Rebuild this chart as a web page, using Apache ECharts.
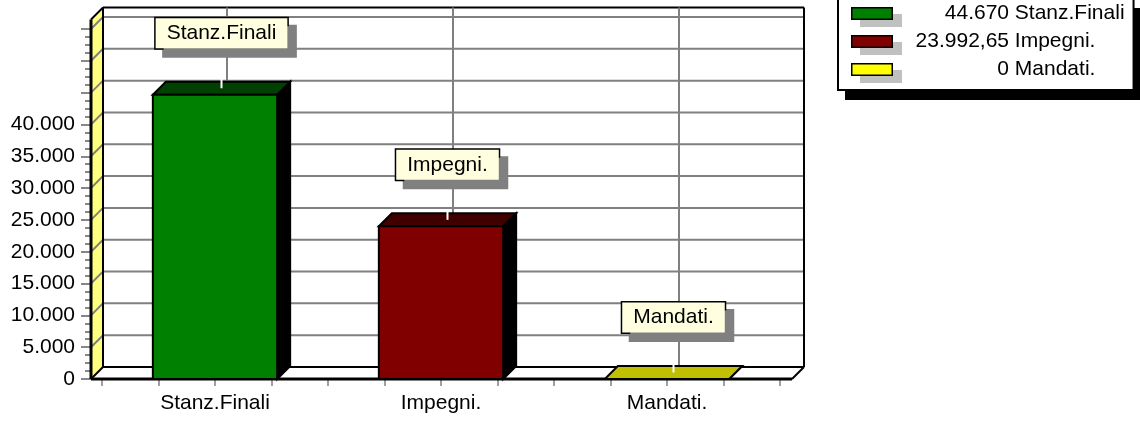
<!DOCTYPE html>
<html>
<head>
<meta charset="utf-8">
<script src="https://cdn.jsdelivr.net/npm/echarts@6/dist/echarts.min.js"></script>
<style>
  html, body { margin: 0; padding: 0; background: #fff; }
  #main { width: 1140px; height: 421px; }
</style>
</head>
<body>
<div id="main"></div>
<script>
// dati del grafico
const categories = ['Stanz.Finali', 'Impegni.', 'Mandati.'];
const values = [44670, 23992.65, 0];
const yTickLabels = ['0', '5.000', '10.000', '15.000', '20.000', '25.000', '30.000', '35.000', '40.000'];

// stile
const frontColors = ['#008000', '#800000', '#ffff00'];
const topColors = ['#004000', '#400000', '#c0c000'];
const FONT = '"Liberation Sans", Arial, sans-serif';
const Y_MAX = 55000;     // ultimo tick
const WALL_TOP = 56500;  // bordo superiore delle pareti
const BAR_W = 0.55;
const WALL_D = 12;       // profondita pareti
const BAR_D = 13;        // profondita barre
const VAL_COL = 102;     // colonna valori nella legenda

function fmtIt(v) {
  const p = v.toFixed(2).split('.');
  const int = p[0].replace(/\B(?=(\d{3})+(?!\d))/g, '.');
  return p[1] === '00' ? int : int + ',' + p[1];
}

function line(a, b, color, w) {
  return {
    type: 'line',
    shape: { x1: a[0], y1: a[1], x2: b[0], y2: b[1] },
    style: { stroke: color, lineWidth: w }
  };
}

// icona legenda con ombra grigia
function swatch(color) {
  const c = document.createElement('canvas');
  c.width = 51; c.height = 27;
  const ctx = c.getContext('2d');
  ctx.fillStyle = '#c0c0c0';
  ctx.fillRect(9, 14, 42, 13);
  ctx.fillStyle = color;
  ctx.fillRect(0, 7, 42, 13);
  ctx.strokeStyle = '#000';
  ctx.lineWidth = 1.5;
  ctx.strokeRect(0.75, 7.75, 40.5, 11.5);
  return 'image://' + c.toDataURL();
}

const measureCtx = document.createElement('canvas').getContext('2d');
measureCtx.font = '21px ' + FONT;
const legendRich = { n: { fontSize: 21, fontFamily: FONT, color: '#000', lineHeight: 21 } };
values.forEach((v, i) => {
  const w = measureCtx.measureText(fmtIt(v)).width;
  legendRich['v' + i] = {
    fontSize: 21, fontFamily: FONT, color: '#000', lineHeight: 21,
    padding: [0, 0, 0, Math.max(0, VAL_COL - w)]
  };
});
function legendText(name) {
  const i = categories.indexOf(name);
  return '{v' + i + '|' + fmtIt(values[i]) + '} {n|' + name + '}';
}

// pareti, pavimento e griglia
function renderFrame(params, api) {
  const fb = api.coord([0, 0]);
  const ft = api.coord([1, WALL_TOP]);
  const x0 = fb[0], y0 = fb[1], x1 = ft[0], yt = ft[1];
  const d = WALL_D;
  const ch = [];
  ch.push({ type: 'rect', shape: { x: x0 + d, y: yt - d, width: x1 - x0, height: y0 - yt }, style: { fill: '#fff' } });
  ch.push({ type: 'polygon', shape: { points: [[x0, y0], [x0, yt], [x0 + d, yt - d], [x0 + d, y0 - d]] }, style: { fill: '#ffff80' } });
  ch.push({ type: 'polygon', shape: { points: [[x0, y0], [x1, y0], [x1 + d, y0 - d], [x0 + d, y0 - d]] }, style: { fill: '#fff' } });
  for (let v = 5000; v <= Y_MAX; v += 5000) {
    const y = api.coord([0, v])[1];
    ch.push({
      type: 'polyline',
      shape: { points: [[x0, y], [x0 + d, y - d], [x1 + d, y - d]] },
      style: { stroke: '#808080', lineWidth: 2, fill: null }
    });
  }
  ch.push(line([x0 + d, yt - d], [x0 + d, y0 - d], '#000', 2));
  ch.push(line([x0 + d, yt - d], [x1 + d, yt - d], '#000', 2));
  ch.push(line([x1 + d, yt - d], [x1 + d, y0 - d], '#000', 2));
  ch.push(line([x0 + d, y0 - d], [x1 + d, y0 - d], '#000', 2));
  ch.push(line([x0, yt], [x0 + d, yt - d], '#000', 2));
  ch.push(line([x0, y0], [x0 + d, y0 - d], '#000', 2));
  ch.push(line([x1, y0], [x1 + d, y0 - d], '#000', 2));
  ch.push(line([x0, yt], [x0, y0], '#000', 3));
  ch.push(line([x0, y0], [x1, y0], '#000', 3));
  return { type: 'group', children: ch };
}

// barre 3D con etichetta
function renderBar(params, api) {
  const i = api.value(0);
  const v = api.value(1);
  const top = api.coord([i, v]);
  const base = api.coord([i, 0]);
  const wall = api.coord([i, WALL_TOP]);
  const w = api.size([BAR_W, 0])[0];
  const l = top[0] - w / 2, r = top[0] + w / 2, yt = top[1], yb = base[1];
  const d = BAR_D;
  const tcx = top[0] + d / 2, tcy = yt - d / 2;
  return {
    type: 'group',
    children: [
      line([top[0] + WALL_D, wall[1] - WALL_D], [top[0] + WALL_D, yb - WALL_D], '#808080', 2),
      { type: 'polygon', shape: { points: [[r, yt], [r + d, yt - d], [r + d, yb - d], [r, yb]] },
        style: { fill: '#000', stroke: '#000', lineWidth: 2 } },
      { type: 'polygon', shape: { points: [[l, yt], [l + d, yt - d], [r + d, yt - d], [r, yt]] },
        style: { fill: topColors[i], stroke: '#000', lineWidth: 2 } },
      { type: 'rect', shape: { x: l, y: yt, width: w, height: yb - yt },
        style: { fill: frontColors[i], stroke: '#000', lineWidth: 2 } },
      line([tcx, tcy], [tcx, tcy - 10], '#fff', 2),
      {
        type: 'text',
        x: tcx, y: tcy - 55,
        style: {
          text: categories[i],
          align: 'center', verticalAlign: 'middle',
          font: '21px ' + FONT,
          fill: '#000',
          backgroundColor: '#ffffe0',
          borderColor: '#000', borderWidth: 1.5,
          padding: [5, 11, 4, 11],
          shadowColor: '#808080', shadowBlur: 0, shadowOffsetX: 8, shadowOffsetY: 8
        }
      }
    ]
  };
}

const barSeries = categories.map((name, i) => ({
  name: name,
  type: 'custom',
  xAxisIndex: 1,
  yAxisIndex: 1,
  z: 3,
  itemStyle: { color: frontColors[i] },
  renderItem: renderBar,
  data: [[i, values[i]]]
}));

const legendBase = {
  orient: 'vertical',
  left: 838,
  top: -2,
  selectedMode: false,
  itemWidth: 51,
  itemHeight: 27,
  itemGap: 1,
  padding: [2, 9, 7, 13],
  formatter: legendText
};

const myChart = echarts.init(document.getElementById('main'));
myChart.setOption({
  animation: false,
  textStyle: { fontFamily: FONT },
  legend: [
    // riquadro bianco con ombra nera e contenuto
    Object.assign({}, legendBase, {
      z: 10,
      data: categories.map((name, i) => ({ name: name, icon: swatch(frontColors[i]) })),
      backgroundColor: '#fff',
      borderWidth: 0,
      shadowColor: '#000',
      shadowBlur: 0,
      shadowOffsetX: 7,
      shadowOffsetY: 10,
      textStyle: { fontSize: 21, fontFamily: FONT, color: '#000', lineHeight: 21, rich: legendRich }
    }),
    // solo il bordo del riquadro
    Object.assign({}, legendBase, {
      z: 11,
      data: categories,
      icon: 'rect',
      itemStyle: { opacity: 0 },
      backgroundColor: 'transparent',
      borderColor: '#000',
      borderWidth: 2,
      textStyle: {
        fontSize: 21, fontFamily: FONT, color: 'rgba(0,0,0,0)', lineHeight: 21,
        rich: Object.fromEntries(Object.entries(legendRich).map(([k, s]) => [k, Object.assign({}, s, { color: 'rgba(0,0,0,0)' })]))
      }
    })
  ],
  grid: [
    { left: 91, right: 348, top: 29, bottom: 42 },
    { left: 102, right: 360, top: 29, bottom: 42 }
  ],
  xAxis: [
    { type: 'value', gridIndex: 0, min: 0, max: 1, show: false },
    {
      type: 'value',
      gridIndex: 1,
      min: -0.5,
      max: 2.5,
      interval: 0.25,
      axisLine: { show: false },
      axisTick: { show: true, length: 7, lineStyle: { color: '#808080', width: 1.5 } },
      splitLine: { show: false },
      axisLabel: {
        margin: 14,
        fontSize: 21,
        fontFamily: FONT,
        color: '#000',
        formatter: function (v) {
          return Number.isInteger(v) ? categories[v] : '';
        }
      }
    }
  ],
  yAxis: [
    {
      type: 'value',
      gridIndex: 0,
      min: 0,
      max: Y_MAX,
      interval: 5000,
      axisLine: { show: false },
      axisTick: { show: true, length: 10, lineStyle: { color: '#606060', width: 1.5 } },
      minorTick: { show: true, splitNumber: 4, length: 6, lineStyle: { color: '#606060', width: 1.5 } },
      splitLine: { show: false },
      axisLabel: {
        margin: 16,
        fontSize: 21,
        fontFamily: FONT,
        color: '#000',
        formatter: function (v) {
          return yTickLabels[Math.round(v / 5000)] || '';
        }
      }
    },
    { type: 'value', gridIndex: 1, min: 0, max: Y_MAX, interval: 5000, show: false }
  ],
  series: [
    {
      name: 'cornice',
      type: 'custom',
      xAxisIndex: 0,
      yAxisIndex: 0,
      z: 1,
      silent: true,
      renderItem: renderFrame,
      data: [[0, 0]]
    }
  ].concat(barSeries)
});
</script>
</body>
</html>
